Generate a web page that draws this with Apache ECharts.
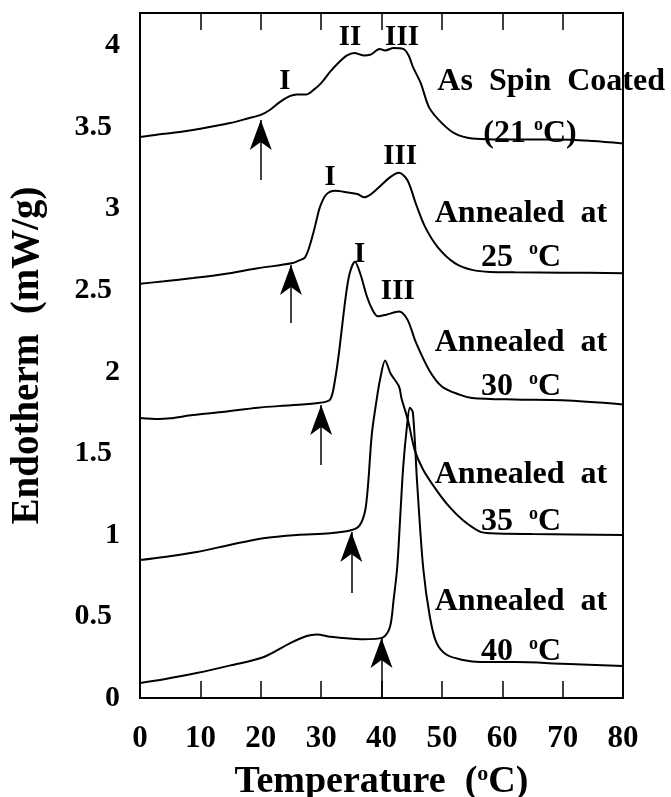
<!DOCTYPE html>
<html>
<head>
<meta charset="utf-8">
<script src="https://cdn.jsdelivr.net/npm/echarts@6/dist/echarts.min.js"></script>
<style>
  html, body { margin: 0; padding: 0; background: #fff; }
  #chart { width: 671px; height: 797px; }
</style>
</head>
<body>
<div id="chart"></div>
<script>
// DSC traces, [temperature (°C), endotherm (mW/g)]
var spinCoated = [[0,3.44],[3,3.455],[6.6,3.47],[10,3.49],[14.9,3.525],[18,3.555],[20,3.575],[21.5,3.605],[23.2,3.655],[24.8,3.69],[26,3.70],[27.5,3.70],[28.8,3.73],[30,3.77],[31.5,3.84],[33,3.90],[34.3,3.94],[35.5,3.955],[37,3.94],[38.2,3.945],[39.7,3.98],[40.6,3.97],[42,3.985],[43.6,3.98],[44.5,3.94],[45.2,3.87],[46.5,3.77],[47.9,3.62],[50,3.525],[52.2,3.46],[55,3.43],[58.6,3.425],[65,3.425],[69.2,3.425],[75,3.415],[80,3.40]];
var annealed25 = [[0,2.54],[4,2.555],[8.8,2.575],[14,2.60],[19.5,2.635],[25.1,2.665],[26.5,2.685],[27.3,2.70],[28,2.76],[28.7,2.85],[29.3,2.94],[29.8,3.01],[30.8,3.085],[32.3,3.11],[34.4,3.10],[36,3.09],[37.2,3.07],[38.3,3.09],[39.4,3.125],[41.5,3.195],[42.9,3.22],[44.3,3.175],[45.7,3.03],[47.2,2.89],[49.3,2.765],[52.2,2.665],[55,2.625],[58,2.612],[62.1,2.61],[70,2.608],[80,2.605]];
var annealed30 = [[0,1.717],[3.1,1.71],[5,1.715],[8.8,1.735],[14,1.755],[19.5,1.78],[25,1.795],[29.8,1.81],[31.5,1.83],[32.3,1.95],[33,2.13],[34,2.44],[34.7,2.60],[35.6,2.675],[36.5,2.60],[37.6,2.46],[38.5,2.38],[39.4,2.34],[40.8,2.35],[42.9,2.37],[44.3,2.32],[45.7,2.18],[47.9,2.01],[50,1.91],[52.9,1.86],[55,1.84],[62,1.83],[70,1.825],[80,1.80]];
var annealed35 = [[0,0.846],[4,0.865],[9.4,0.895],[15,0.94],[20.4,0.98],[26,1.0],[31.5,1.01],[35.1,1.03],[36.4,1.06],[37.3,1.15],[37.8,1.32],[38.4,1.62],[39.2,1.83],[39.8,1.96],[40.6,2.07],[41.5,1.99],[42.9,1.91],[43.3,1.84],[44.4,1.70],[45.5,1.52],[46.9,1.40],[49.1,1.275],[51.3,1.17],[53.5,1.09],[56.3,1.02],[58,1.01],[65,1.005],[80,1.0]];
var annealed40 = [[0,0.092],[4,0.115],[9.4,0.153],[15,0.20],[20.4,0.25],[24.8,0.335],[27.6,0.38],[29.3,0.39],[31.5,0.375],[33.1,0.37],[37,0.36],[40.2,0.37],[41.4,0.435],[42,0.60],[42.6,0.80],[43.1,1.11],[43.6,1.42],[44.2,1.66],[44.7,1.78],[45.2,1.75],[45.9,1.32],[46.9,0.80],[48,0.50],[49.1,0.34],[50.8,0.265],[53.5,0.233],[56.3,0.22],[62.1,0.22],[70,0.21],[80,0.196]];

// onset arrows: [temperature, tip value, tail value]
var arrows = [[20,3.544,3.176],[25,2.655,2.299],[30,1.796,1.429],[35,1.018,0.644],[40,0.368,0]];

// text on the plot and where it sits (data coords)
var noteText = ['As  Spin  Coated','(21 °C)','Annealed  at','25  °C','Annealed  at','30  °C','Annealed  at','35  °C','Annealed  at','40  °C'];
var notePos = [[68.1,3.777],[64.6,3.46],[63.1,2.97],[63.1,2.70],[63.1,2.18],[63.1,1.907],[63.1,1.367],[63.1,1.079],[63.1,0.589],[63.1,0.282]];
var peakText = ['I','II','III','I','III','I','III'];
var peakPos = [[24,3.777],[34.8,4.05],[43.4,4.05],[31.5,3.19],[43.1,3.32],[36.4,2.72],[42.7,2.49]];

var xTicks = { min: 0, max: 80, interval: 10 };
var yTicks = { min: 0, max: 4.2, interval: 0.5 };

var serif = "'Liberation Serif', 'Times New Roman', serif";
var arrowHead = 'path://M0,0 L11,30 L0,22 L-11,30 Z';

function sup(t) {
  var parts = t.split('°');
  if (parts.length < 2) return '{t|' + t + '}';
  return '{t|' + parts[0] + '}{s|o}{t|' + parts[1] + '}';
}

var chart = echarts.init(document.getElementById('chart'));

function curve(data) {
  return {
    type: 'line',
    data: data,
    smooth: 0.3,
    symbol: 'none',
    lineStyle: { color: '#000', width: 2 },
    z: 3
  };
}

var noteData = noteText.map(function (t, i) {
  return { value: notePos[i], label: { formatter: sup(t) } };
});
var peakData = peakText.map(function (t, i) {
  return { value: peakPos[i], label: { formatter: t } };
});

var option = {
  animation: false,
  backgroundColor: '#fff',
  grid: {
    left: 140, right: 48, top: 13, bottom: 99,
    outerBoundsMode: 'none',
    containLabel: false,
    show: true, borderColor: '#000', borderWidth: 2
  },
  xAxis: [{
    type: 'value',
    min: xTicks.min, max: xTicks.max, interval: xTicks.interval,
    axisLine: { show: false },
    axisTick: { inside: true, length: 17, lineStyle: { color: '#000', width: 1.5 } },
    splitLine: { show: false },
    axisLabel: {
      margin: 25, color: '#000',
      fontFamily: serif, fontWeight: 'bold', fontSize: 31
    },
    name: '{t|Temperature  (}{s|o}{t|C)}',
    nameLocation: 'middle',
    nameGap: 65,
    nameTextStyle: {
      rich: {
        t: { fontFamily: serif, fontWeight: 'bold', fontSize: 38, color: '#000', lineHeight: 38 },
        s: { fontFamily: serif, fontWeight: 'bold', fontSize: 22, color: '#000', verticalAlign: 'top', lineHeight: 38 }
      }
    }
  }, {
    type: 'value',
    position: 'top',
    min: xTicks.min, max: xTicks.max, interval: xTicks.interval,
    axisLine: { show: false },
    axisTick: { inside: true, length: 17, lineStyle: { color: '#000', width: 1.5 } },
    axisLabel: { show: false },
    splitLine: { show: false }
  }],
  yAxis: {
    type: 'value',
    min: yTicks.min, max: yTicks.max, interval: yTicks.interval,
    axisLine: { show: false },
    axisTick: { show: false },
    splitLine: { show: false },
    axisLabel: {
      margin: 20,
      showMaxLabel: false,
      formatter: function (v) {
        return v % 1 ? '{d|' + v + '}' : '{i|' + v + '}';
      },
      rich: {
        i: { fontFamily: serif, fontWeight: 'bold', fontSize: 30, color: '#000' },
        d: { fontFamily: serif, fontWeight: 'bold', fontSize: 30, color: '#000', padding: [0, 8, 0, 0] }
      }
    },
    name: 'Endotherm  (mW/g)',
    nameLocation: 'middle',
    nameGap: 93,
    nameTextStyle: { fontFamily: serif, fontWeight: 'bold', fontSize: 39, color: '#000' }
  },
  series: [
    curve(spinCoated),
    curve(annealed25),
    curve(annealed30),
    curve(annealed35),
    curve(annealed40),
    {
      type: 'lines',
      coordinateSystem: 'cartesian2d',
      symbol: 'none',
      lineStyle: { color: '#000', width: 1.5, opacity: 1 },
      data: arrows.map(function (a) { return { coords: [[a[0], a[2]], [a[0], a[1]]] }; }),
      z: 4
    },
    {
      type: 'scatter',
      symbol: arrowHead,
      symbolSize: [22, 30],
      symbolKeepAspect: false,
      symbolOffset: [0, 15],
      itemStyle: { color: '#000', opacity: 1 },
      data: arrows.map(function (a) { return [a[0], a[1]]; }),
      z: 5
    },
    {
      type: 'scatter',
      symbolSize: 0,
      itemStyle: { opacity: 1 },
      data: noteData,
      label: {
        show: true, position: 'inside', color: '#000',
        rich: {
          t: { fontFamily: serif, fontWeight: 'bold', fontSize: 32, color: '#000', lineHeight: 34 },
          s: { fontFamily: serif, fontWeight: 'bold', fontSize: 18, color: '#000', verticalAlign: 'top', lineHeight: 34 }
        }
      },
      z: 6
    },
    {
      type: 'scatter',
      symbolSize: 0,
      itemStyle: { opacity: 1 },
      data: peakData,
      label: {
        show: true, position: 'inside',
        fontFamily: serif, fontWeight: 'bold', fontSize: 29, color: '#000'
      },
      z: 6
    }
  ]
};

chart.setOption(option);
</script>
</body>
</html>
